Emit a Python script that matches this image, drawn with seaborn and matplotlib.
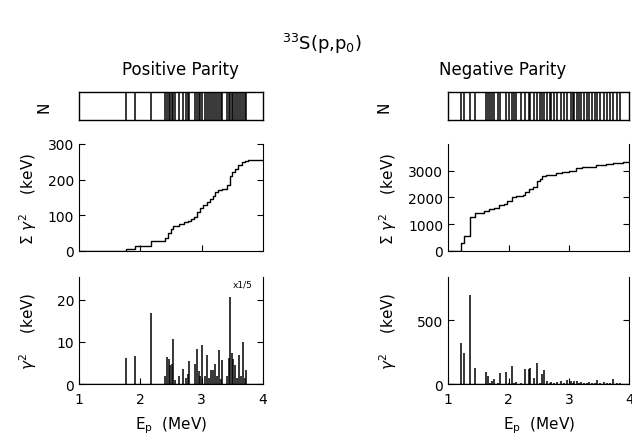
import numpy as np
import pandas as pd
import matplotlib
matplotlib.use('Agg')
import matplotlib.pyplot as plt
import seaborn as sns

# positive parity resonances: energy (MeV) and reduced width gamma^2 (keV)
pos_E = [1.77, 1.91, 2.17, 2.41, 2.44, 2.47, 2.49, 2.51, 2.53, 2.56, 2.63, 2.70,
         2.75, 2.77, 2.80, 2.89, 2.92, 2.95, 2.98, 3.01, 3.05, 3.08, 3.12, 3.15,
         3.19, 3.22, 3.25, 3.28, 3.31, 3.34, 3.42, 3.44, 3.47, 3.50, 3.52, 3.55,
         3.58, 3.61, 3.64, 3.68, 3.71, 3.73]
pos_g2 = [6.2, 6.7, 16.8, 1.8, 6.5, 6.0, 4.6, 4.8, 10.7, 1.0, 1.8, 3.5,
          1.5, 2.5, 5.5, 4.8, 8.4, 3.0, 2.0, 9.2, 2.0, 7.0, 1.5, 3.3,
          3.3, 4.8, 2.0, 8.0, 1.2, 5.8, 2.0, 6.1, 20.8, 7.3, 6.0, 4.5,
          1.5, 6.9, 2.0, 9.9, 1.5, 3.3]

# negative parity resonances
neg_E = [1.21, 1.26, 1.36, 1.44, 1.63, 1.66, 1.70, 1.73, 1.76, 1.82, 1.86, 1.96,
         2.00, 2.05, 2.09, 2.13, 2.20, 2.28, 2.33, 2.36, 2.42, 2.47, 2.52, 2.56,
         2.58, 2.64, 2.68, 2.71, 2.76, 2.80, 2.86, 2.91, 2.96, 3.03, 3.06, 3.09,
         3.14, 3.17, 3.20, 3.25, 3.29, 3.33, 3.38, 3.43, 3.47, 3.52, 3.58, 3.63,
         3.68, 3.73, 3.79, 3.85]
neg_g2 = [318, 240, 697, 126, 95, 60, 10, 20, 40, 8, 87, 95,
          10, 140, 8, 15, 6, 118, 120, 125, 50, 165, 10, 80,
          110, 20, 8, 15, 6, 18, 20, 8, 35, 20, 8, 25,
          25, 8, 15, 10, 6, 12, 8, 6, 30, 8, 15, 6,
          8, 40, 6, 10]

# cumulative sum of gamma^2 (keV), read as a step curve
pos_cum_E = [1.0, 1.77, 1.91, 2.17, 2.41, 2.45, 2.50, 2.53, 2.63, 2.72, 2.77, 2.83,
             2.88, 2.93, 2.98, 3.03, 3.08, 3.13, 3.18, 3.22, 3.26, 3.34, 3.42,
             3.46, 3.49, 3.54, 3.59, 3.66, 3.71, 3.76, 4.0]
pos_cum = [0, 6, 13, 29, 35, 50, 62, 70, 75, 80, 85, 90,
           95, 110, 120, 130, 138, 145, 155, 165, 170, 175, 185,
           210, 220, 230, 240, 248, 253, 255, 255]
neg_cum_E = [1.0, 1.21, 1.26, 1.36, 1.44, 1.60, 1.68, 1.76, 1.84, 1.92, 1.98, 2.05,
             2.13, 2.24, 2.28, 2.33, 2.40, 2.47, 2.52, 2.56, 2.62, 2.78, 2.89,
             3.00, 3.11, 3.22, 3.44, 3.61, 3.72, 3.89, 4.0]
neg_cum = [0, 315, 555, 1270, 1400, 1500, 1580, 1620, 1700, 1750, 1850, 2030,
           2060, 2080, 2200, 2300, 2400, 2600, 2700, 2800, 2850, 2900, 2950,
           3000, 3100, 3150, 3200, 3250, 3300, 3320, 3320]

sns.set_style('ticks')
plt.rcParams['font.family'] = ['DejaVu Sans']
plt.rcParams['mathtext.fontset'] = 'dejavusans'
for k in ['text.color', 'axes.labelcolor', 'xtick.color', 'ytick.color', 'axes.edgecolor']:
    plt.rcParams[k] = 'black'

fig = plt.figure(figsize=(6.32, 4.39), dpi=100)

cols = [
    (0.125, 0.291, pos_E, pos_g2, pos_cum_E, pos_cum, (0, 300), [0, 100, 200, 300],
     (0, 25.5), [0, 10, 20], -0.22, -0.15),
    (0.709, 0.287, neg_E, neg_g2, neg_cum_E, neg_cum, (0, 4000), [0, 1000, 2000, 3000],
     (0, 840), [0, 500], -0.27, -0.31),
]

for left, width, E, g2, cE, cv, ylim_m, yt_m, ylim_b, yt_b, lab_x, n_x in cols:
    # level strip
    ax_n = fig.add_axes([left, 0.724, width, 0.064])
    ax_n.vlines(E, 0, 1, color='black', lw=1.1)
    ax_n.set_xlim(1, 4)
    ax_n.set_ylim(0, 1)
    ax_n.set_xticks([])
    ax_n.set_yticks([])
    for s in ax_n.spines.values():
        s.set_linewidth(1.0)
    ax_n.set_ylabel('N', rotation=90, fontsize=11)
    ax_n.yaxis.set_label_coords(n_x, 0.5)

    # cumulative
    ax_m = fig.add_axes([left, 0.426, width, 0.244])
    df = pd.DataFrame({'E': cE, 'cum': cv})
    sns.lineplot(data=df, x='E', y='cum', drawstyle='steps-post', color='black',
                 lw=1.0, ax=ax_m)
    ax_m.set_xlim(1, 4)
    ax_m.set_ylim(*ylim_m)
    ax_m.set_yticks(yt_m)
    ax_m.set_xticks([2, 3])
    ax_m.set_xticklabels([])
    ax_m.set_xlabel('')
    ax_m.set_ylabel(r'$\Sigma\ \gamma^2$    (keV)', fontsize=11)
    ax_m.yaxis.set_label_coords(lab_x, 0.5)
    ax_m.tick_params(direction='in', right=True, length=4, labelsize=10)
    ax_m.spines['top'].set_visible(False)

    # reduced widths
    ax_b = fig.add_axes([left, 0.123, width, 0.244])
    ax_b.vlines(E, 0, g2, color='black', lw=1.1)
    ax_b.axhline(0, color='black', lw=1.0)
    ax_b.set_xlim(1, 4)
    ax_b.set_ylim(*ylim_b)
    ax_b.set_yticks(yt_b)
    ax_b.set_xticks([1, 2, 3, 4])
    ax_b.tick_params(direction='in', right=True, length=4, labelsize=10)
    ax_b.tick_params(axis='x', pad=6)
    ax_b.spines['top'].set_visible(False)
    ax_b.set_ylabel(r'$\gamma^2$    (keV)', fontsize=11)
    ax_b.yaxis.set_label_coords(lab_x, 0.5)
    ax_b.set_xlabel(r'E$_\mathregular{p}$  (MeV)', fontsize=11, labelpad=6)
    if E is pos_E:
        ax_b.text(3.50, 23.3, 'x1/5', fontsize=6.5)

fig.text(0.51, 0.885, r'$^{33}$S(p,p$_0$)', ha='center', fontsize=13)
fig.text(0.285, 0.83, 'Positive Parity', ha='center', fontsize=12)
fig.text(0.795, 0.83, 'Negative Parity', ha='center', fontsize=12)

fig.savefig('out.png', dpi=100)
